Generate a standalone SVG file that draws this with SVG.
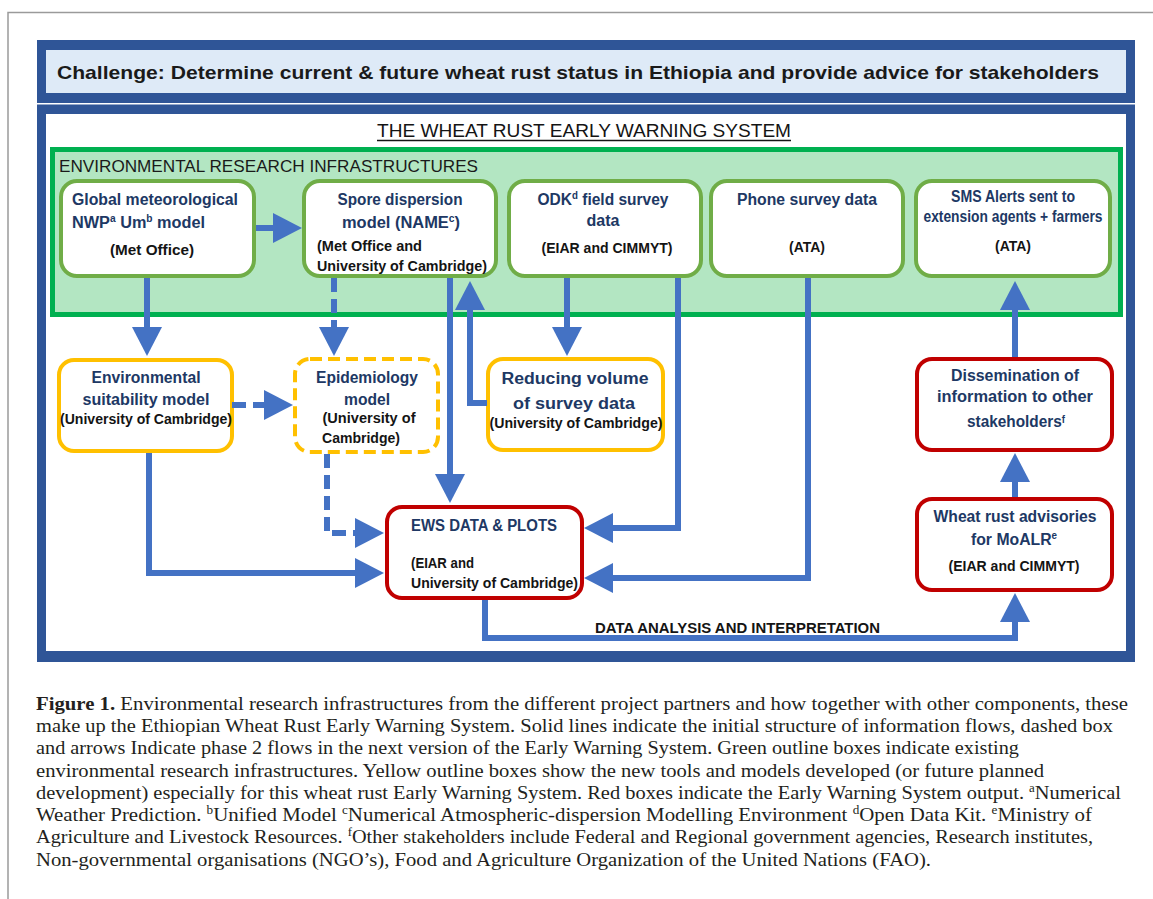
<svg xmlns="http://www.w3.org/2000/svg" width="1153" height="899" viewBox="0 0 1153 899">
<defs>
<marker id="ah" markerUnits="userSpaceOnUse" markerWidth="29" markerHeight="30" viewBox="0 0 29 30" refX="0" refY="15" orient="auto">
<path d="M0,0 L29,15 L0,30 Z" fill="#4472C4"/>
</marker>
<style>
.frame{fill:#2F5597}
.gbox{fill:#ffffff;stroke:#70AD47;stroke-width:4}
.ybox{fill:#ffffff;stroke:#FFC000;stroke-width:4}
.rbox{fill:#ffffff;stroke:#C00000;stroke-width:4}
.t{font-family:"Liberation Sans",Arial,sans-serif;font-weight:bold;font-size:16px;fill:#203864}
.s{font-family:"Liberation Sans",Arial,sans-serif;font-weight:bold;font-size:14px;fill:#141414}
.m{text-anchor:middle}
.sup{font-size:10px}
.c{stroke:#4472C4;stroke-width:6;fill:none;marker-end:url(#ah)}
.d{stroke-dasharray:14 7}
.cap{font-family:"Liberation Serif","Times New Roman",serif;font-size:19px;fill:#231f20}
</style>
</defs>
<rect width="1153" height="899" fill="#ffffff"/>
<path d="M8,899 V12.5 H1153" fill="none" stroke="#9a9a9a" stroke-width="1.5"/>

<g id="challenge">
<rect class="frame" x="37" y="40" width="1098" height="63"/>
<rect x="46" y="50" width="1080" height="43" fill="#DEEAF7"/>
<text x="57" y="79" font-family="Liberation Sans,Arial,sans-serif" font-weight="bold" font-size="19" fill="#1a1a1a" textLength="1042" lengthAdjust="spacingAndGlyphs">Challenge: Determine current &amp; future wheat rust status in Ethiopia and provide advice for stakeholders</text>
</g>

<g id="ews-system">
<rect class="frame" x="37" y="104.5" width="1098" height="557.5"/>
<rect x="46" y="114" width="1080" height="537" fill="#ffffff"/>
<text x="377" y="137" font-family="Liberation Sans,Arial,sans-serif" font-size="18.5" fill="#141414" textLength="414" lengthAdjust="spacingAndGlyphs">THE WHEAT RUST EARLY WARNING SYSTEM</text>
<line x1="377" y1="140.5" x2="791" y2="140.5" stroke="#141414" stroke-width="1.3"/>
</g>

<g id="infrastructures">
<rect x="52.5" y="149.5" width="1068" height="165" fill="#B3E6C2" stroke="#00B050" stroke-width="5"/>
<text x="59" y="172" font-family="Liberation Sans,Arial,sans-serif" font-size="16.5" fill="#1a1a1a" textLength="419" lengthAdjust="spacingAndGlyphs">ENVIRONMENTAL RESEARCH INFRASTRUCTURES</text>
</g>

<g id="global-met">
<rect class="gbox" x="61" y="181" width="193" height="95" rx="16"/>
<text class="t" x="72" y="205" textLength="166" lengthAdjust="spacingAndGlyphs">Global meteorological</text>
<text class="t" x="72" y="228" textLength="133" lengthAdjust="spacingAndGlyphs">NWP<tspan class="sup" dy="-6">a</tspan><tspan dy="6"> Um</tspan><tspan class="sup" dy="-6">b</tspan><tspan dy="6"> model</tspan></text>
<text class="s m" x="152" y="255" textLength="84" lengthAdjust="spacingAndGlyphs">(Met Office)</text>
</g>

<g id="spore">
<rect class="gbox" x="304" y="181" width="192" height="95" rx="16"/>
<text class="t m" x="400" y="205" textLength="125" lengthAdjust="spacingAndGlyphs">Spore dispersion</text>
<text class="t m" x="401" y="228" textLength="118" lengthAdjust="spacingAndGlyphs">model (NAME<tspan class="sup" dy="-6">c</tspan><tspan dy="6">)</tspan></text>
<text class="s" x="317" y="251" textLength="105" lengthAdjust="spacingAndGlyphs">(Met Office and</text>
<text class="s" x="317" y="271" textLength="170" lengthAdjust="spacingAndGlyphs">University of Cambridge)</text>
</g>

<g id="odk">
<rect class="gbox" x="509" y="181" width="192" height="95" rx="16"/>
<text class="t m" x="603" y="205" textLength="131" lengthAdjust="spacingAndGlyphs">ODK<tspan class="sup" dy="-6">d</tspan><tspan dy="6"> field survey</tspan></text>
<text class="t m" x="603" y="226" textLength="33" lengthAdjust="spacingAndGlyphs">data</text>
<text class="s m" x="607" y="253" textLength="131" lengthAdjust="spacingAndGlyphs">(EIAR and CIMMYT)</text>
</g>

<g id="phone">
<rect class="gbox" x="711" y="181" width="192" height="95" rx="16"/>
<text class="t m" x="807" y="205" textLength="140" lengthAdjust="spacingAndGlyphs">Phone survey data</text>
<text class="s m" x="807" y="252" textLength="36" lengthAdjust="spacingAndGlyphs">(ATA)</text>
</g>

<g id="sms">
<rect class="gbox" x="916" y="181" width="194" height="95" rx="16"/>
<text class="t m" x="1013" y="202" font-size="14" textLength="124" lengthAdjust="spacingAndGlyphs">SMS Alerts sent to</text>
<text class="t m" x="1013" y="222" font-size="14" textLength="179" lengthAdjust="spacingAndGlyphs">extension agents + farmers</text>
<text class="s m" x="1013" y="251" textLength="36" lengthAdjust="spacingAndGlyphs">(ATA)</text>
</g>

<g id="env-suitability">
<rect class="ybox" x="59" y="360" width="173" height="91" rx="15"/>
<text class="t m" x="146" y="383" textLength="109" lengthAdjust="spacingAndGlyphs">Environmental</text>
<text class="t m" x="146" y="405" textLength="127" lengthAdjust="spacingAndGlyphs">suitability model</text>
<text class="s m" x="146" y="424" textLength="172" lengthAdjust="spacingAndGlyphs">(University of Cambridge)</text>
</g>

<g id="epidemiology">
<rect class="ybox" x="295" y="359" width="143" height="93" rx="15" stroke-dasharray="12 6"/>
<text class="t m" x="367" y="383" textLength="102" lengthAdjust="spacingAndGlyphs">Epidemiology</text>
<text class="t m" x="367" y="405" textLength="46" lengthAdjust="spacingAndGlyphs">model</text>
<text class="s m" x="369" y="423" font-size="15" textLength="93" lengthAdjust="spacingAndGlyphs">(University of</text>
<text class="s" x="322" y="443" font-size="15" textLength="78" lengthAdjust="spacingAndGlyphs">Cambridge)</text>
</g>

<g id="reducing">
<rect class="ybox" x="488" y="359" width="175" height="91" rx="15"/>
<text class="t m" x="575" y="384" font-size="19" textLength="147" lengthAdjust="spacingAndGlyphs">Reducing volume</text>
<text class="t m" x="574" y="409" font-size="19" textLength="122" lengthAdjust="spacingAndGlyphs">of survey data</text>
<text class="s m" x="576" y="428" textLength="173" lengthAdjust="spacingAndGlyphs">(University of Cambridge)</text>
</g>

<g id="ews-data">
<rect class="rbox" x="387" y="507" width="195" height="91" rx="15"/>
<text class="t" x="411" y="531" font-size="15.5" textLength="146" lengthAdjust="spacingAndGlyphs">EWS DATA &amp; PLOTS</text>
<text class="s" x="411" y="568" textLength="63" lengthAdjust="spacingAndGlyphs">(EIAR and</text>
<text class="s" x="411" y="588" textLength="167" lengthAdjust="spacingAndGlyphs">University of Cambridge)</text>
</g>

<g id="dissemination">
<rect class="rbox" x="917" y="359" width="195" height="91" rx="15"/>
<text class="t m" x="1015" y="381" textLength="128" lengthAdjust="spacingAndGlyphs">Dissemination of</text>
<text class="t m" x="1015" y="402" textLength="156" lengthAdjust="spacingAndGlyphs">information to other</text>
<text class="t m" x="1016" y="427" textLength="98" lengthAdjust="spacingAndGlyphs">stakeholders<tspan class="sup" dy="-4">f</tspan></text>
</g>

<g id="advisories">
<rect class="rbox" x="917" y="499" width="195" height="91" rx="15"/>
<text class="t m" x="1015" y="522" textLength="163" lengthAdjust="spacingAndGlyphs">Wheat rust advisories</text>
<text class="t m" x="1014" y="545" textLength="86" lengthAdjust="spacingAndGlyphs">for MoALR<tspan class="sup" dy="-6">e</tspan></text>
<text class="s m" x="1014" y="571" textLength="131" lengthAdjust="spacingAndGlyphs">(EIAR and CIMMYT)</text>
</g>

<g id="connectors">
<path class="c" d="M256,228 H273"/>
<path class="c" d="M147,278 V327"/>
<path class="c d" d="M334,278 V327"/>
<path class="c d" d="M232,405 H264"/>
<path class="c" d="M450,278 V474"/>
<path class="c" d="M487,403 H470 V310"/>
<path class="c" d="M567,278 V327"/>
<path class="c" d="M678,278 V528 H613"/>
<path class="c" d="M808,278 V578 H613"/>
<path class="c" d="M149,453 V573 H355"/>
<path class="c d" d="M327,454 V533 H355"/>
<path class="c" d="M485,600 V638 H1015 V622"/>
<path class="c" d="M1015,497 V482"/>
<path class="c" d="M1015,357 V310"/>
<text x="595" y="633" font-family="Liberation Sans,Arial,sans-serif" font-weight="bold" font-size="14.5" fill="#141414" textLength="285" lengthAdjust="spacingAndGlyphs">DATA ANALYSIS AND INTERPRETATION</text>
</g>

<g id="caption">
<text class="cap" x="36" y="710" textLength="1092" lengthAdjust="spacingAndGlyphs"><tspan font-weight="bold">Figure 1.</tspan> Environmental research infrastructures from the different project partners and how together with other components, these</text>
<text class="cap" x="36" y="732" textLength="1077" lengthAdjust="spacingAndGlyphs">make up the Ethiopian Wheat Rust Early Warning System. Solid lines indicate the initial structure of information flows, dashed box</text>
<text class="cap" x="36" y="754" textLength="983" lengthAdjust="spacingAndGlyphs">and arrows Indicate phase 2 flows in the next version of the Early Warning System. Green outline boxes indicate existing</text>
<text class="cap" x="36" y="777" textLength="1008" lengthAdjust="spacingAndGlyphs">environmental research infrastructures. Yellow outline boxes show the new tools and models developed (or future planned</text>
<text class="cap" x="36" y="799" textLength="1085" lengthAdjust="spacingAndGlyphs">development) especially for this wheat rust Early Warning System. Red boxes indicate the Early Warning System output. <tspan font-size="12" dy="-7">a</tspan><tspan dy="7">Numerical</tspan></text>
<text class="cap" x="36" y="821" textLength="1056" lengthAdjust="spacingAndGlyphs">Weather Prediction. <tspan font-size="12" dy="-7">b</tspan><tspan dy="7">Unified Model </tspan><tspan font-size="12" dy="-7">c</tspan><tspan dy="7">Numerical Atmospheric-dispersion Modelling Environment </tspan><tspan font-size="12" dy="-7">d</tspan><tspan dy="7">Open Data Kit. </tspan><tspan font-size="12" dy="-7">e</tspan><tspan dy="7">Ministry of</tspan></text>
<text class="cap" x="36" y="843" textLength="1057" lengthAdjust="spacingAndGlyphs">Agriculture and Livestock Resources. <tspan font-size="12" dy="-7">f</tspan><tspan dy="7">Other stakeholders include Federal and Regional government agencies, Research institutes,</tspan></text>
<text class="cap" x="36" y="866" textLength="895" lengthAdjust="spacingAndGlyphs">Non-governmental organisations (NGO’s), Food and Agriculture Organization of the United Nations (FAO).</text>
</g>
</svg>
